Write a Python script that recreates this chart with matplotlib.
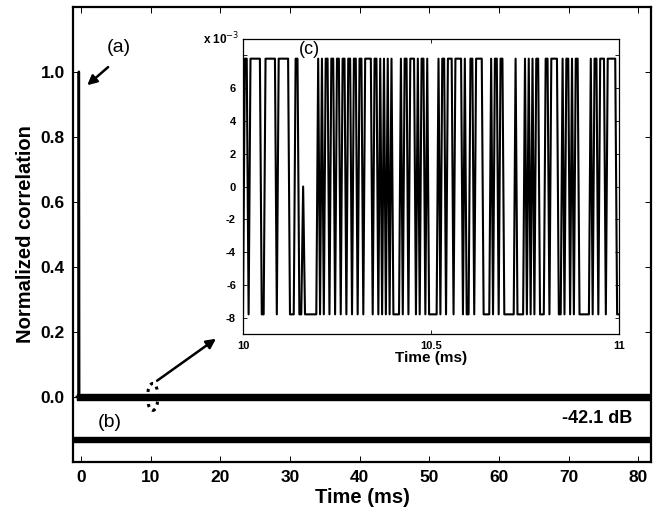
import matplotlib
matplotlib.use("Agg")
import matplotlib.pyplot as plt
import numpy as np
from matplotlib.patches import Ellipse

plt.rcParams['font.family'] = ['Liberation Sans', 'DejaVu Sans']

# main trace (a): autocorrelation peak, then noise floor
corr_t = [-0.6, -0.35, -0.3, -0.25, 81.8]
corr_y = [0.0, 0.0, 1.0, 0.0, 0.0]
noise_amp = 7.8e-3          # (x 10^-3)
# trace (b): cross-correlation, shifted down for display
cross_t = [-1.1, 81.8]
cross_offset = -0.13
db_label = "-42.1 dB"

# inset (c): 10 - 11 ms, levels in units of noise_amp
inset_t0, inset_t1 = 10.0, 11.0
inset_levels = [
    -1, 1, 1, -1, 1, 1, 1, 1, 1, 1, -1, -1, 1, 1, 1, 1, 1, 1, -1, 1,
    1, 1, 1, 1, 1, -1, -1, -1, 1, 1, -1, -1, 0, -1, -1, -1, -1, -1, -1, -1,
    1, -1, 1, -1, 1, 1, -1, 1, 1, -1, 1, 1, -1, 1, 1, -1, 1, 1, -1, 1,
    1, -1, 1, 1, -1, 1, 1, 1, 1, -1, 1, 1, -1, 1, -1, 1, -1, 1, -1, 1,
    -1, -1, -1, -1, 1, -1, 1, 1, -1, 1, 1, 1, -1, 1, -1, 1, 1, -1, 1, -1,
    -1, -1, -1, -1, 1, -1, 1, 1, -1, 1, 1, 1, -1, 1, 1, 1, 1, -1, 1, -1,
    -1, 1, 1, -1, 1, 1, 1, 1, -1, -1, -1, -1, 1, -1, 1, 1, -1, 1, 1, -1,
    -1, -1, -1, -1, -1, 1, -1, -1, -1, -1, 1, -1, 1, -1, 1, -1, 1, 1, -1, -1,
    -1, 1, 1, -1, 1, 1, 1, 1, -1, -1, 1, -1, 1, 1, -1, 1, -1, 1, 1, -1,
    -1, -1, -1, -1, -1, 1, -1, 1, 1, -1, 1, 1, 1, -1, 1, 1, 1, 1, 1, -1, -1,
]

fig = plt.figure(figsize=(6.59, 5.18), dpi=100)
ax = fig.add_axes([0.1112, 0.1081, 0.8767, 0.8789])

# noise floor bands
ax.fill_between(corr_t, -noise_amp, noise_amp, color='k', lw=1.0, edgecolor='k')
ax.fill_between(cross_t, cross_offset - noise_amp, cross_offset + noise_amp,
                color='k', lw=1.0, edgecolor='k')
ax.plot(corr_t, corr_y, color='k', lw=1.8)

ax.set_xlim(-1.1, 81.8)
ax.set_ylim(-0.2, 1.2)
ax.set_xticks(np.arange(0, 81, 10))
ax.set_yticks(np.arange(0, 1.01, 0.2))
ax.set_yticklabels(['0.0', '0.2', '0.4', '0.6', '0.8', '1.0'])
ax.tick_params(direction='in', length=4, width=0.7, top=True, right=True,
               labelsize=12.5, pad=6)
for lab in ax.get_xticklabels() + ax.get_yticklabels():
    lab.set_fontweight('bold')
for sp in ax.spines.values():
    sp.set_linewidth(1.6)
ax.set_xlabel('Time (ms)', fontsize=14.5, fontweight='bold', labelpad=2)
ax.set_ylabel('Normalized correlation', fontsize=14.5, fontweight='bold', labelpad=4)

# annotations
ax.annotate('', xy=(0.6, 0.953), xytext=(4.2, 1.02),
            arrowprops=dict(arrowstyle='-|>', color='k', lw=1.8, mutation_scale=14))
ax.text(5.45, 1.076, '(a)', fontsize=14, ha='center', va='center')
ax.text(4.2, -0.078, '(b)', fontsize=14, ha='center', va='center')
ax.text(79.1, -0.066, db_label, fontsize=13, fontweight='bold', ha='right', va='center')
ax.add_patch(Ellipse((10.3, 0.0), 1.5, 0.083, fill=False, ls=(0, (1, 1.5)),
                     lw=2.2, color='k'))
ax.annotate('', xy=(19.7, 0.184), xytext=(10.6, 0.045),
            arrowprops=dict(arrowstyle='-|>', color='k', lw=1.8, mutation_scale=14))

# inset
axi = fig.add_axes([0.3687, 0.3552, 0.5706, 0.5695])
t_in = np.linspace(inset_t0, inset_t1, len(inset_levels))
axi.plot(t_in, np.array(inset_levels) * noise_amp, color='k', lw=1.5)
axi.set_xlim(inset_t0, inset_t1)
axi.set_ylim(-9e-3, 9e-3)
axi.set_xticks([10, 10.5, 11])
axi.set_xticklabels(['10', '10.5', '11'])
axi.set_yticks(np.arange(-8, 9, 2) * 1e-3)
axi.set_yticklabels(['-8', '-6', '-4', '-2', '0', '2', '4', '6', ''])
axi.tick_params(direction='in', length=3, width=0.6, top=True, right=True,
                labelsize=8, pad=5)
for lab in axi.get_xticklabels() + axi.get_yticklabels():
    lab.set_fontweight('bold')
for sp in axi.spines.values():
    sp.set_linewidth(0.9)
axi.set_xlabel('Time (ms)', fontsize=11, fontweight='bold', labelpad=0)
axi.text(-0.01, 1.0, 'x 10$^{-3}$', transform=axi.transAxes, fontsize=8.5,
         fontweight='bold', ha='right', va='center')
axi.text(0.178, 0.963, '(c)', transform=axi.transAxes, fontsize=13,
         ha='center', va='center')

fig.savefig('out.png', dpi=100)
